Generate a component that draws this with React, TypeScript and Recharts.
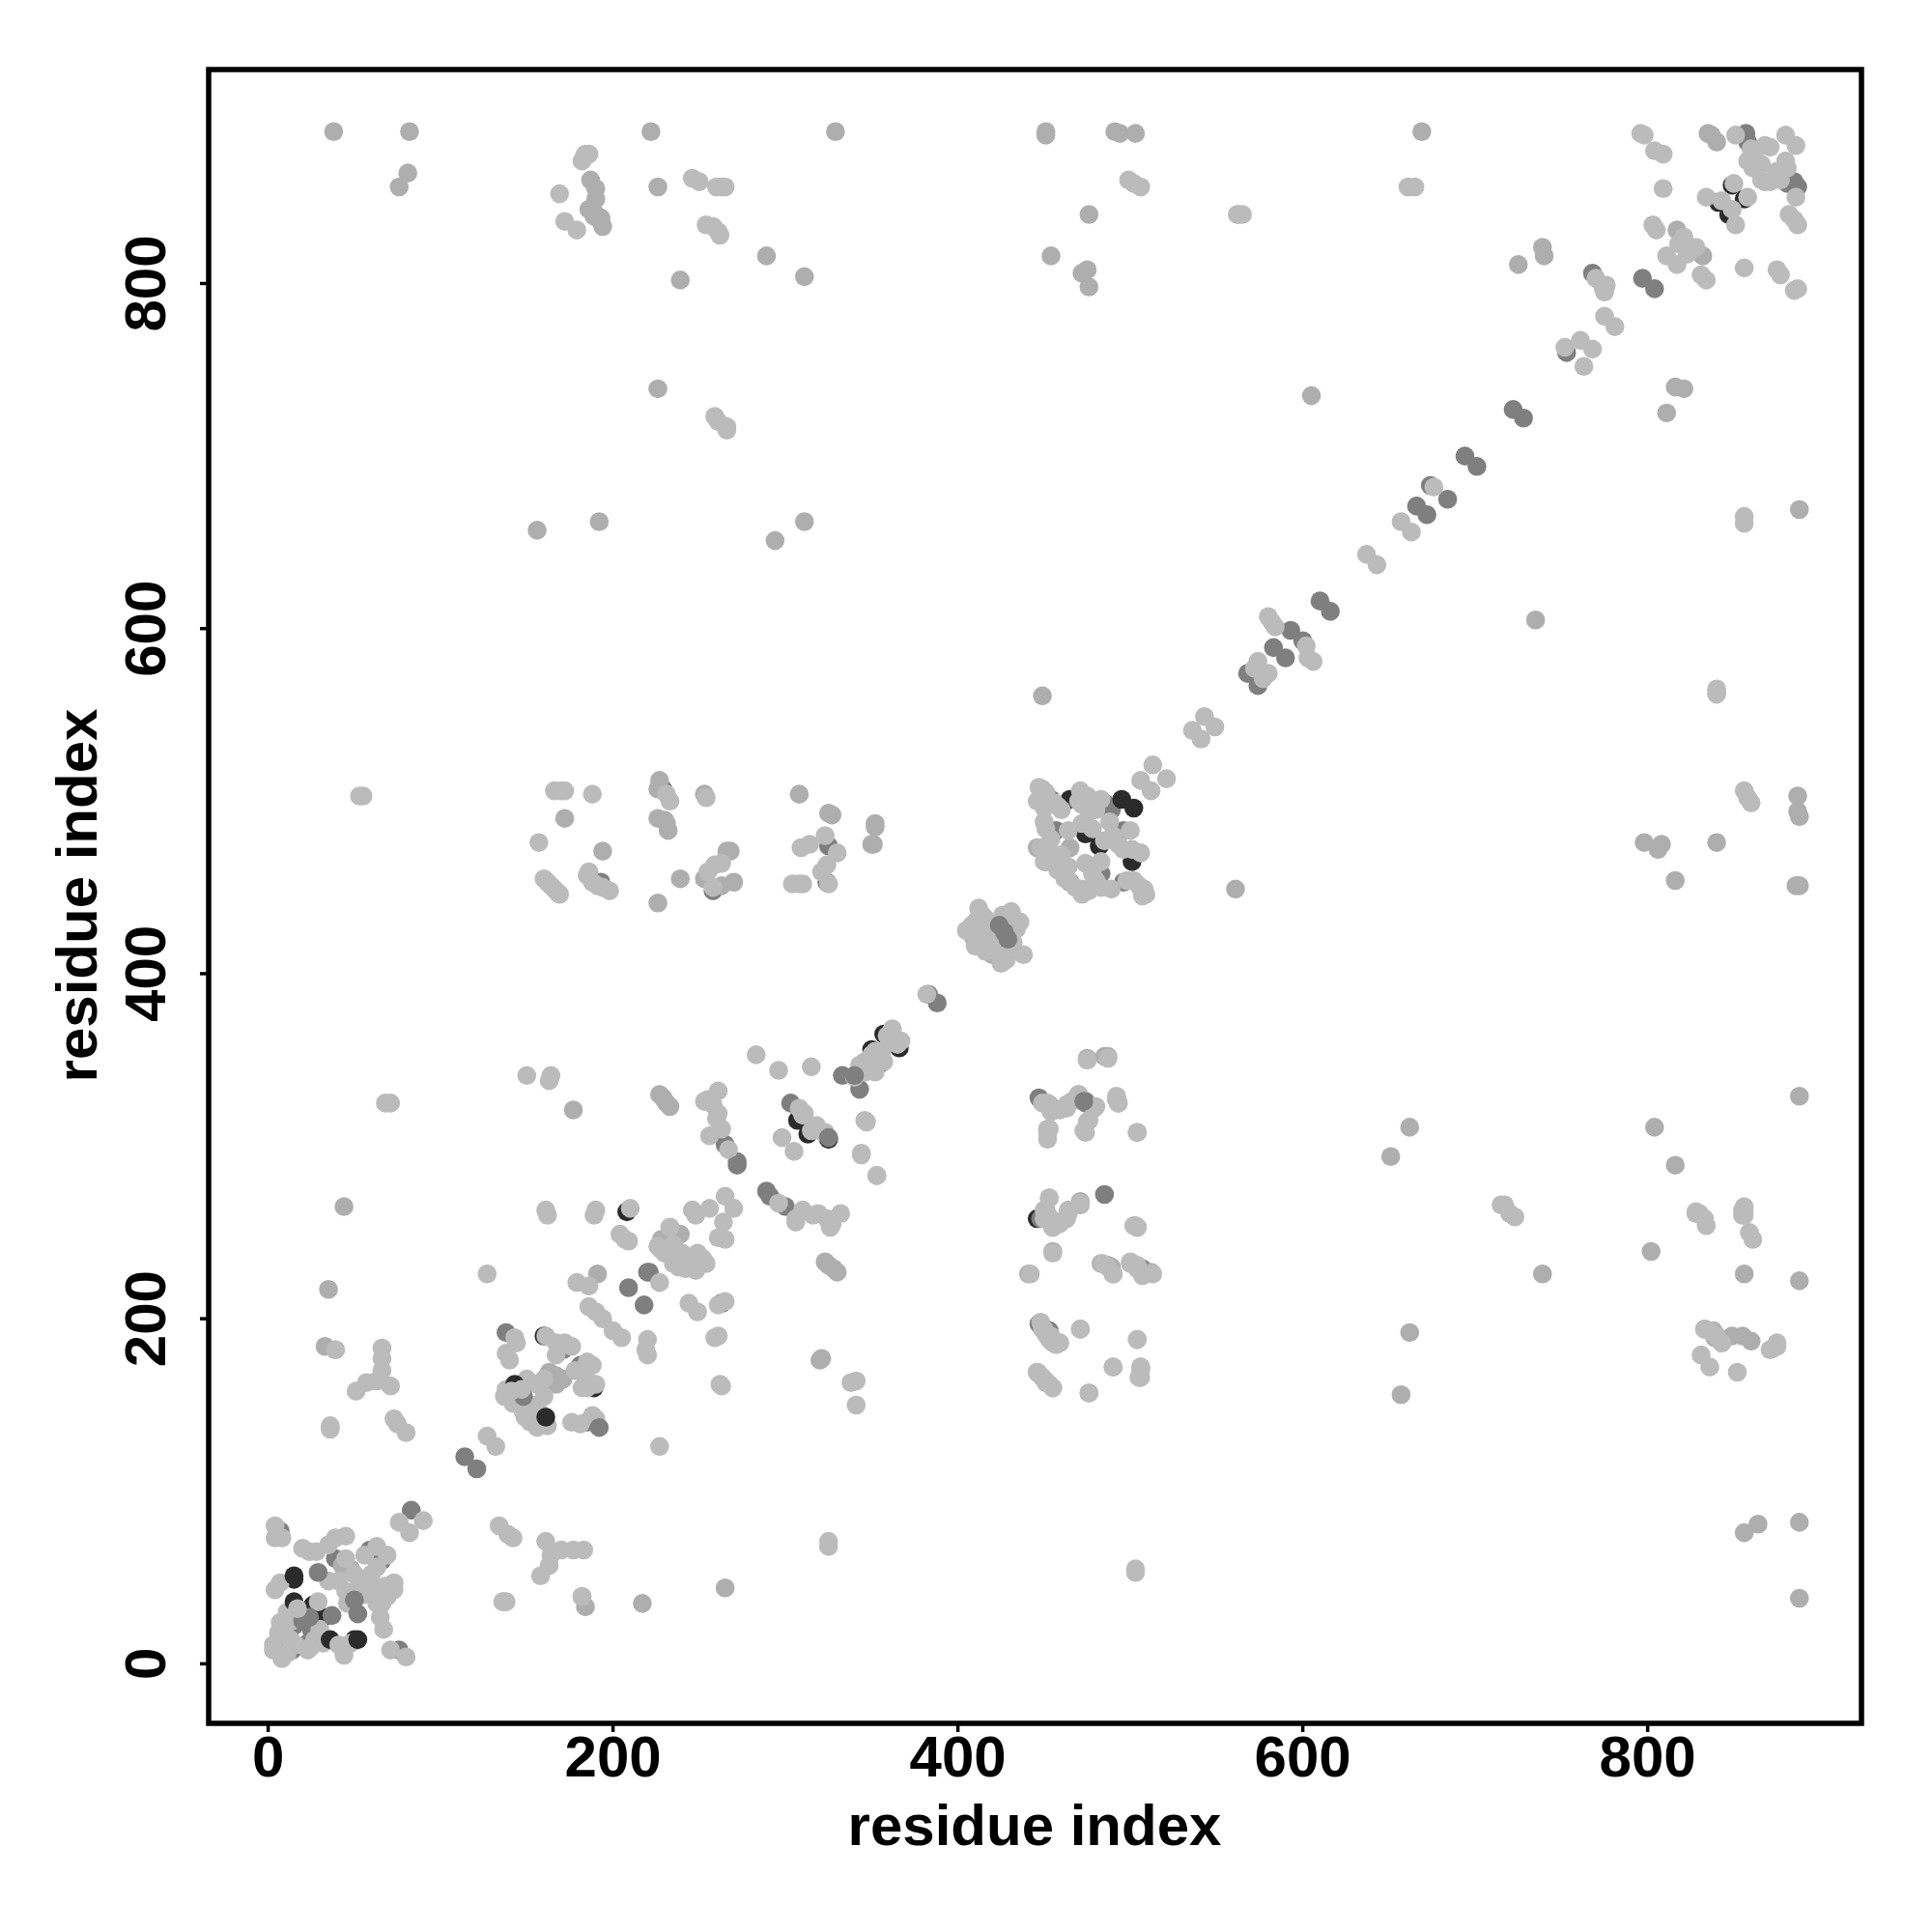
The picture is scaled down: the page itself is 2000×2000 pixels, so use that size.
import { ScatterChart, Scatter, XAxis, YAxis, ReferenceArea, Label } from "recharts";

type Pt = [number, number];

const TICKS = [0, 200, 400, 600, 800];
const AXIS_TITLE = "residue index";
const DOMAIN: [number, number] = [-34.5, 924];

// contacts read once on one side of the diagonal, the map is symmetric
const softPairs: Pt[] = [
  [38, 888], [82, 888], [81, 864], [76, 856], [222, 888], [226, 856], [329, 888], [451, 888], [451, 886],
  [491, 888], [494, 887], [503, 887], [476, 840], [454, 816], [472, 806], [475, 808], [476, 798],
  [189, 839], [194, 833], [193, 836], [190, 840], [186, 843], [190, 849], [190, 855], [187, 860], [193, 838], [188, 842],
  [289, 816], [311, 804], [239, 802], [226, 739], [156, 657], [192, 662], [294, 651], [311, 662],
  [449, 561], [605, 735], [669, 888], [172, 490], [194, 471], [227, 512], [226, 507], [253, 504],
  [226, 490], [230, 489], [231, 487], [232, 483], [239, 455], [226, 441], [253, 455], [266, 471], [268, 471],
  [270, 453], [263, 451], [327, 492], [325, 493], [308, 504], [352, 487], [352, 485], [351, 475], [350, 475],
  [177, 321], [227, 330], [229, 328], [231, 325], [233, 323], [35, 217], [39, 182], [33, 184], [44, 265],
  [725, 811], [739, 821], [740, 816],
];

const lightPairs: Pt[] = [
  [183, 873], [186, 875], [182, 871], [184, 875], [169, 852], [172, 836], [179, 831], [246, 861], [250, 859],
  [260, 856], [263, 856], [265, 856], [254, 834], [258, 833], [261, 830], [262, 828], [499, 860], [502, 858], [506, 856],
  [661, 856], [665, 856], [562, 840], [565, 840], [563, 840], [259, 723], [261, 720], [266, 717], [266, 715],
  [55, 503], [53, 503], [166, 506], [170, 506], [172, 506], [188, 504], [157, 476],
  [160, 455], [162, 453], [164, 451], [166, 449], [168, 447], [169, 446],
  [186, 459], [185, 457], [188, 453], [191, 451], [194, 450], [198, 448],
  [231, 504], [233, 500], [254, 502], [259, 463], [263, 464], [255, 459], [258, 450],
  [323, 480], [314, 475], [309, 473], [330, 470], [324, 463], [321, 459], [304, 452], [308, 452], [310, 452], [325, 452],
  [68, 325], [71, 325], [150, 341], [163, 338], [164, 341], [80, 134], [75, 139], [73, 142], [36, 136], [36, 138],
  [51, 158], [57, 163], [71, 161], [63, 164], [66, 170], [66, 177], [66, 183], [39, 182], [36, 137],
  [261, 332], [255, 327], [253, 326], [258, 324], [261, 319], [260, 316], [256, 306], [263, 310], [506, 512], [513, 521],
  [536, 541], [543, 549], [283, 353], [296, 344], [315, 346],
];

const midPairs: Pt[] = [[229, 507], [193, 453], [325, 474], [324, 453], [258, 448], [383, 388]];

const blackUnderPoints: Pt[] = [
  [160, 190], [189, 160], [208, 262], [263, 209], [307, 315], [313, 307], [325, 304], [357, 365], [366, 357],
  [350, 356], [355, 348], [474, 481], [482, 474], [465, 501], [501, 465], [26, 34], [32, 27], [15, 49], [50, 14],
  [446, 258], [841, 847], [847, 840], [849, 857], [856, 849], [236, 247],
];

const midUnderPoints: Pt[] = [
  [138, 192], [171, 182], [181, 173], [185, 140], [153, 145], [144, 151], [146, 158], [231, 247], [247, 232], [220, 227], [221, 227],
  [303, 325], [333, 341], [343, 333], [289, 274], [291, 271], [300, 265], [265, 301], [272, 291], [114, 120], [121, 113],
  [447, 328], [452, 324], [474, 326], [447, 197], [451, 194], [568, 574], [574, 567], [593, 599], [600, 593], [583, 589], [590, 583],
  [610, 616], [616, 610], [666, 671], [672, 666], [674, 683], [684, 675], [694, 700], [701, 694], [722, 727], [728, 722],
  [753, 760], [768, 806], [857, 887], [858, 882], [881, 858], [885, 859], [887, 856], [797, 803], [804, 797], [7, 77],
  [39, 61], [59, 66], [66, 60], [58, 41], [48, 39], [25, 20], [15, 22], [6, 14], [14, 8], [23, 12], [76, 8], [83, 89],
  [454, 501], [451, 498], [485, 499], [489, 495], [496, 483], [457, 483], [451, 465], [483, 458], [465, 453], [496, 453],
];

const softPoints: Pt[] = [
  [167, 167], [163, 169], [171, 165], [167, 162], [165, 165], [191, 226], [228, 246], [233, 253], [239, 249],
  [48, 55], [43, 57], [835, 887], [837, 886], [840, 882], [817, 831], [832, 816], [405, 425], [409, 421], [420, 411],
  [320, 176], [465, 473], [446, 473],
];

const lightPoints: Pt[] = [
  [4, 80], [8, 73], [4, 73], [20, 67], [28, 65], [24, 65], [39, 73], [45, 74], [35, 69], [45, 61], [63, 68], [56, 63], [69, 63], [63, 56],
  [76, 82], [90, 83], [82, 76], [4, 43], [7, 47], [35, 48], [41, 48], [53, 46], [59, 46], [73, 47], [73, 43], [69, 39], [62, 39], [46, 35],
  [65, 27], [67, 20], [63, 35], [11, 30], [29, 36], [7, 24], [10, 17], [27, 14], [32, 12], [44, 5], [48, 12],
  [3, 8], [3, 11], [8, 3], [11, 6], [16, 11], [23, 8], [13, 14], [71, 8], [80, 4],
  [14, 25], [25, 10], [30, 20], [50, 52], [60, 52], [45, 42], [55, 40], [68, 45], [66, 35], [6, 18],
  [143, 189], [144, 186], [138, 180], [140, 176], [161, 190], [167, 186], [172, 186], [176, 184], [167, 179], [185, 175], [188, 173],
  [184, 167], [190, 162], [156, 162], [160, 155], [138, 159], [137, 155], [142, 151], [149, 143], [156, 137], [158, 145], [162, 138],
  [150, 165], [146, 150], [150, 148], [155, 150], [148, 146], [152, 140], [178, 170], [182, 160], [185, 160], [160, 165],
  [176, 140], [181, 139], [188, 144], [190, 142], [127, 226], [227, 126], [161, 263], [162, 260], [190, 263], [189, 260], [210, 264],
  [204, 249], [207, 246], [209, 245], [246, 263], [248, 260], [256, 264], [265, 271], [270, 264], [264, 256], [261, 247], [265, 246],
  [233, 253], [226, 242], [230, 238], [238, 230], [242, 229], [248, 228], [249, 238], [252, 235], [254, 232], [227, 221], [244, 209], [249, 204],
  [228, 240], [235, 243], [240, 238], [245, 235], [235, 232], [240, 233],
  [265, 210], [261, 208], [179, 221], [186, 219], [186, 207], [190, 204], [194, 200], [200, 193], [205, 189], [220, 188], [219, 182], [220, 179],
  [261, 190], [259, 189], [262, 162], [263, 161], [127, 132], [132, 126], [296, 267], [306, 258], [267, 298], [298, 305], [305, 297],
  [308, 322], [311, 319], [318, 310], [323, 308], [310, 318], [315, 309], [322, 308], [318, 312],
  [340, 340], [346, 343], [343, 347], [349, 344], [350, 353], [356, 355], [361, 366], [367, 361], [352, 355], [357, 349], [359, 364], [365, 359], [346, 349], [352, 343], [362, 368],
  [347, 314], [344, 295], [353, 283], [447, 508], [449, 507], [451, 505], [456, 499], [450, 496], [471, 506], [475, 503], [472, 498], [476, 494], [470, 500], [458, 497],
  [483, 501], [450, 488], [451, 484], [472, 487], [478, 484], [485, 477], [500, 483], [501, 472], [506, 470], [493, 475],
  [464, 483], [454, 478], [452, 473], [456, 464], [460, 469], [464, 462], [474, 464], [483, 465], [464, 454], [472, 449], [472, 446], [480, 454],
  [483, 450], [489, 449], [498, 454], [502, 454], [505, 451], [508, 449], [509, 446], [507, 445],
  [460, 495], [446, 500], [448, 473], [450, 465], [458, 460], [462, 455], [468, 450], [476, 448], [478, 458], [478, 500], [480, 495], [488, 488], [490, 480], [496, 472],
  [475, 350], [487, 351], [449, 325], [454, 320], [463, 322], [466, 326], [470, 330], [479, 322], [492, 329], [493, 325], [476, 315], [474, 308],
  [452, 309], [453, 310], [504, 308], [453, 270], [450, 263], [453, 259], [455, 253], [464, 261], [463, 258], [471, 267], [503, 254], [504, 253],
  [455, 238], [442, 226], [484, 232], [487, 230], [490, 226], [500, 232], [504, 229], [507, 225], [513, 226],
  [454, 190], [459, 186], [455, 186], [449, 194], [471, 194], [504, 188], [446, 169], [449, 166], [451, 163], [455, 160], [490, 172], [506, 172], [505, 166], [476, 157],
  [382, 388], [412, 438], [416, 432], [413, 418], [425, 406], [431, 414], [438, 411], [431, 436], [436, 430], [432, 418],
  [405, 425], [408, 428], [411, 431], [414, 434], [418, 428], [412, 424], [416, 420], [420, 416], [424, 411], [428, 408], [416, 413], [410, 416], [422, 420], [434, 426], [426, 434], [430, 430],
  [580, 607], [582, 604], [584, 601], [602, 590], [603, 583], [606, 581], [574, 581], [572, 577], [580, 574], [577, 571],
  [637, 643], [643, 637], [657, 662], [663, 656], [676, 682], [752, 763], [761, 767], [768, 762], [763, 752],
  [770, 803], [774, 798], [776, 799], [775, 795], [775, 781], [781, 775], [796, 887], [798, 886], [804, 877], [809, 875], [809, 855],
  [851, 886], [868, 880], [871, 879], [880, 886], [886, 880], [858, 871], [861, 867], [866, 869], [880, 871], [881, 867], [868, 859], [871, 859],
  [862, 872], [875, 865], [866, 860], [877, 860], [860, 878], [864, 866],
  [886, 850], [850, 858], [858, 850], [834, 850], [843, 848], [849, 843], [851, 834], [882, 840], [885, 837], [887, 834],
  [803, 834], [805, 831], [821, 827], [818, 823], [828, 821], [811, 816], [823, 817], [817, 811], [831, 805], [834, 802], [856, 809],
  [875, 808], [877, 805], [887, 797], [885, 796], [828, 261], [855, 263], [855, 260], [833, 194], [836, 193], [840, 190], [843, 186],
];

const midTopPoints: Pt[] = [
  [29, 53], [20, 25], [24, 27], [37, 28], [52, 29], [50, 37], [148, 155], [192, 137], [209, 218], [218, 208], [325, 305], [340, 341],
  [473, 326], [485, 272], [272, 289], [424, 428], [429, 420], [427, 424],
];

const blackTopPoints: Pt[] = [[15, 51], [15, 36], [36, 14], [52, 14], [143, 162], [161, 143], [495, 501], [502, 496]];

const lightTopPoints: Pt[] = [[17, 32], [41, 11], [141, 158], [147, 159]];

const mirrored = (pairs: Pt[]) =>
  pairs.flatMap(([a, b]) => [
    { x: a, y: b },
    { x: b, y: a },
  ]);
const direct = (points: Pt[]) => points.map(([x, y]) => ({ x, y }));

const layers = [
  { name: "blackUnder", fill: "#2b2b2b", data: direct(blackUnderPoints) },
  { name: "midUnder", fill: "#7f7f7f", data: [...direct(midUnderPoints), ...mirrored(midPairs)] },
  { name: "soft", fill: "#aeaeae", data: [...direct(softPoints), ...mirrored(softPairs)] },
  { name: "light", fill: "#bbbbbb", data: [...direct(lightPoints), ...mirrored(lightPairs)] },
  { name: "midTop", fill: "#7f7f7f", data: direct(midTopPoints) },
  { name: "blackTop", fill: "#2b2b2b", data: direct(blackTopPoints) },
  { name: "lightTop", fill: "#bbbbbb", data: direct(lightTopPoints) },
];

const FONT = "'Liberation Sans', Arial, sans-serif";

function Dot({ cx, cy, fill }: { cx?: number; cy?: number; fill?: string }) {
  return <circle cx={cx} cy={cy} r={9.8} fill={fill} />;
}

function XTick({ x, y, payload }: { x?: number; y?: number; payload?: { value: number } }) {
  return (
    <text x={x} y={(y ?? 0) + 44} textAnchor="middle" fontFamily={FONT} fontWeight={700} fontSize={60} fill="#000">
      {payload?.value}
    </text>
  );
}

function YTick({ y, payload }: { x?: number; y?: number; payload?: { value: number } }) {
  return (
    <text
      transform={`rotate(-90 171 ${y})`}
      x={171}
      y={y}
      textAnchor="middle"
      fontFamily={FONT}
      fontWeight={700}
      fontSize={60}
      fill="#000"
    >
      {payload?.value}
    </text>
  );
}

function YTitle() {
  return (
    <text
      transform="rotate(-90 100 927)"
      x={100}
      y={927}
      textAnchor="middle"
      fontFamily={FONT}
      fontWeight={700}
      fontSize={60}
      fill="#000"
    >
      {AXIS_TITLE}
    </text>
  );
}

function XTitle() {
  return (
    <text x={1071} y={1910} textAnchor="middle" fontFamily={FONT} fontWeight={700} fontSize={60} fill="#000">
      {AXIS_TITLE}
    </text>
  );
}

export default function App() {
  return (
    <div style={{ position: "absolute", left: 0, top: 0, width: 2000, height: 2000, background: "#fff" }}>
      <ScatterChart width={2000} height={2000} margin={{ top: 72, right: 73, bottom: 86, left: 100 }}>
        <XAxis
          type="number"
          dataKey="x"
          domain={DOMAIN}
          ticks={TICKS}
          allowDataOverflow
          height={130}
          axisLine={false}
          tickSize={9}
          tickLine={{ stroke: "#000", strokeWidth: 3.5 }}
          tick={<XTick />}
          interval={0}
        >
          <Label content={<XTitle />} />
        </XAxis>
        <YAxis
          type="number"
          dataKey="y"
          domain={DOMAIN}
          ticks={TICKS}
          allowDataOverflow
          width={116}
          axisLine={false}
          tickSize={9}
          tickLine={{ stroke: "#000", strokeWidth: 3.5 }}
          tick={<YTick />}
          interval={0}
        >
          <Label content={<YTitle />} />
        </YAxis>
        {layers.map((l) => (
          <Scatter key={l.name} name={l.name} data={l.data} fill={l.fill} shape={<Dot />} isAnimationActive={false} />
        ))}
        <ReferenceArea
          x1={DOMAIN[0]}
          x2={DOMAIN[1]}
          y1={DOMAIN[0]}
          y2={DOMAIN[1]}
          fill="none"
          stroke="#000"
          strokeWidth={5.5}
          ifOverflow="visible"
        />
      </ScatterChart>
    </div>
  );
}
